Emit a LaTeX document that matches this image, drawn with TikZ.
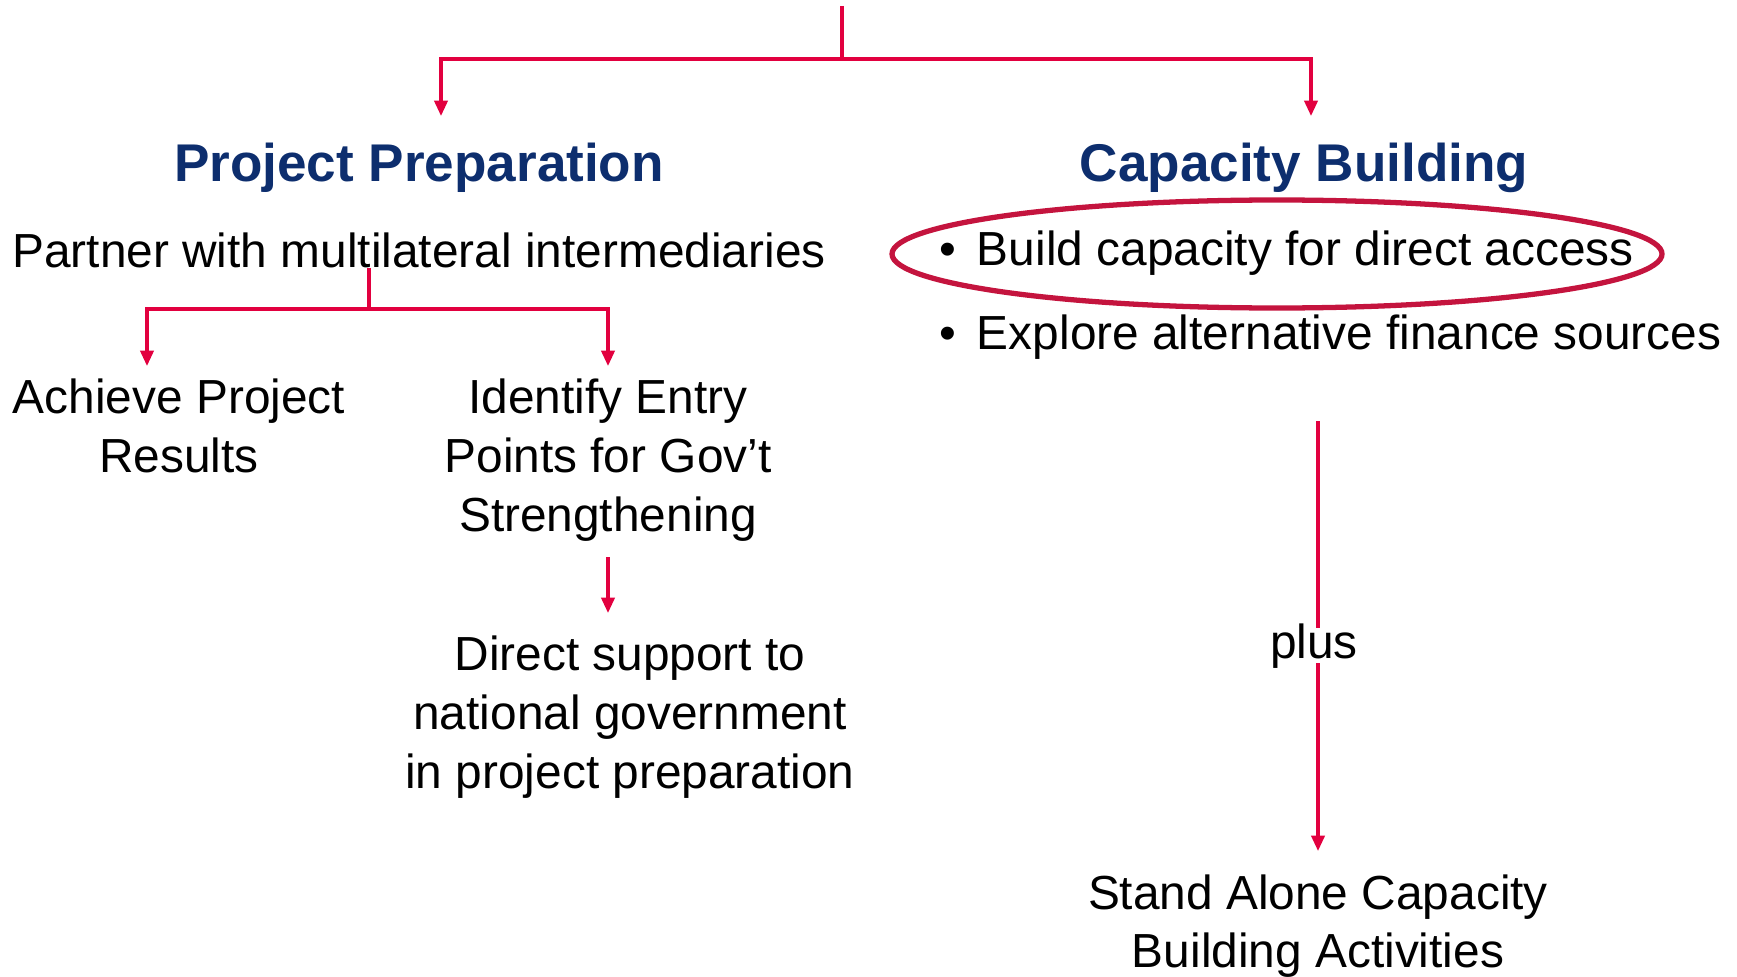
\documentclass[tikz,border=0pt]{standalone}
\usepackage{fontspec}
\setmainfont{Liberation Sans}
\usetikzlibrary{arrows.meta,positioning}
\definecolor{GFLink}{HTML}{E2003F}
\definecolor{GFRing}{HTML}{C4143E}
\definecolor{GFNavy}{HTML}{0D2E6E}
\newcommand{\gfbullet}{\textbullet\hspace{0.43em}}

\begin{document}
\begin{tikzpicture}[x=0.01cm,y=-0.01cm,
      >={Triangle[length=4.4pt,width=3.8pt]},
      flow/.style={->,draw=GFLink,line width=0.9pt},
      trunk/.style={draw=GFLink,line width=1.1pt},
      head/.style={font=\fontsize{15.1}{18}\selectfont\bfseries,text=GFNavy,inner sep=0pt},
      body/.style={font=\fontsize{13.6}{16.7}\selectfont,align=center,inner sep=0pt}
    ]
    \useasboundingbox (0,0) rectangle (1737,976);

    % headings
    \node[head] (prep) at (419,168) {Project Preparation};
    \node[head] (cap) at (1304,168) {Capacity Building};

    % left branch
    \node[body] (partner) at (419,250) {Partner with multilateral intermediaries};
    \node[body] (achieve) at (179,426) {Achieve Project\\Results};
    \node[body] (entry) at (608,460) {Identify Entry\\Points for Gov’t\\Strengthening};
    \node[body] (direct) at (630,717) {Direct support to\\national government\\in project preparation};

    % right branch
    \node[body,anchor=west] (access) at (939,253) {\gfbullet Build capacity for direct access};
    \node[body,anchor=west] (explore) at (939,337) {\gfbullet Explore alternative finance sources};
    \draw[GFRing,line width=1.5pt] (1277,254) ellipse [x radius=385,y radius=54];
    \node[body] (plus) at (1314,646) {plus};
    \node[body] (alone) at (1318,926) {Stand Alone Capacity\\Building Activities};

    % connectors
    \coordinate (root) at (842,6);
    \coordinate (fork) at (842,59);
    \coordinate (prepIn) at (441,116);
    \coordinate (capIn) at (1311,116);
    \draw[trunk] (root) -- (fork);
    \draw[flow] (fork) -| (prepIn);
    \draw[flow] (fork) -| (capIn);

    \coordinate (split) at (369,309);
    \coordinate (achieveIn) at (147,366);
    \coordinate (entryIn) at (608,366);
    \draw[flow] (split |- partner.south) -- (split) -| (achieveIn);
    \draw[flow] (split) -| (entryIn);

    \coordinate (entryOut) at (608,557);
    \coordinate (directIn) at (608,613);
    \draw[flow] (entryOut) -- (directIn);

    % line broken around "plus"
    \coordinate (capOut) at (1318,421);
    \coordinate (plusTop) at (1318,628);
    \coordinate (plusBot) at (1318,663);
    \coordinate (aloneIn) at (1318,851);
    \draw[flow,-] (capOut) -- (plusTop);
    \draw[flow] (plusBot) -- (aloneIn);
  \end{tikzpicture}
\end{document}
